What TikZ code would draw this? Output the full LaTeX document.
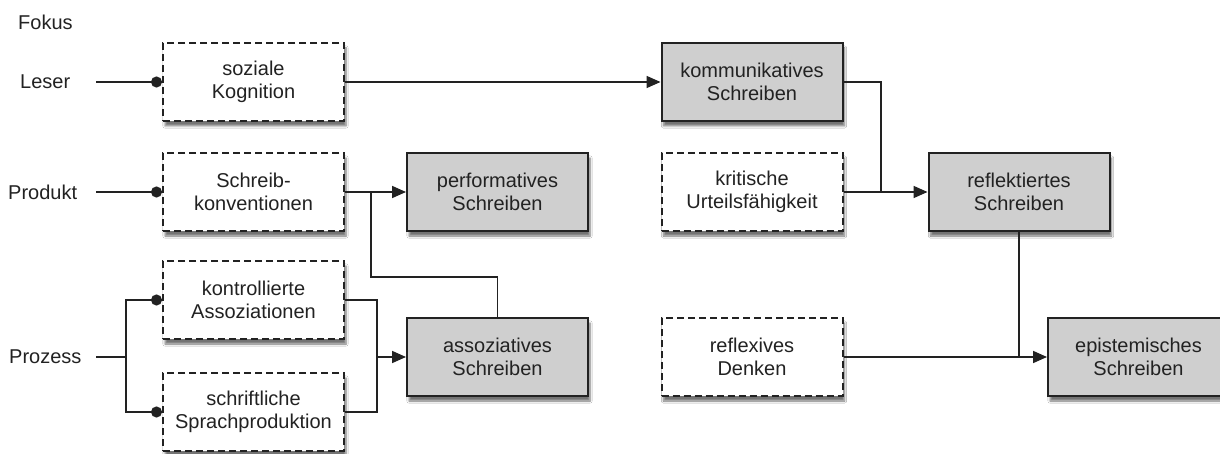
\documentclass[tikz,border=0pt]{standalone}
\usepackage{fontspec}
\setmainfont{Liberation Sans}
\usetikzlibrary{arrows.meta,shadows,shadows.blur,calc}
\definecolor{ink}{HTML}{222222}
\definecolor{boxgray}{HTML}{CFCFCF}
\tikzset{
  base/.style={minimum width=181pt, minimum height=78pt, inner sep=0pt, align=center,
    font=\fontsize{20}{23.5}\selectfont, text=ink, line width=2pt, draw=ink,
    blur shadow={shadow xshift=2pt, shadow yshift=-5pt, shadow blur steps=6, shadow opacity=55}},
  solidbox/.style={base, fill=boxgray},
  dashbox/.style={base, fill=white, dash pattern=on 7pt off 4pt},
  lab/.style={anchor=west, inner sep=0pt, font=\fontsize{20}{23.5}\selectfont, text=ink},
  conn/.style={draw=ink, line width=1.7pt},
  arr/.style={conn, -{Triangle[length=14pt,width=12pt]}},
  dotted end/.style={conn, -{Circle[length=11pt]}},
}
\begin{document}
\begin{tikzpicture}[x=1pt,y=-1pt]
\useasboundingbox (0,0) rectangle (1220,454);
\fill[white] (0,0) rectangle (1220,454);
\clip (0,0) rectangle (1220,454);
% labels
\node[lab] (fokus) at (18,22) {Fokus};
\node[lab] (leser) at (20,82) {Leser};
\node[lab] (produkt) at (8,192) {Produkt};
\node[lab] (prozess) at (9,357) {Prozess};
% boxes
\node[dashbox] (soz) at (253.5,82) {soziale\\Kognition};
\node[dashbox] (konv) at (253.5,192) {Schreib-\\konventionen};
\node[dashbox] (kontr) at (253.5,300) {kontrollierte\\Assoziationen};
\node[dashbox] (schrift) at (253.5,412) {schriftliche\\Sprachproduktion};
\node[solidbox] (perf) at (497.5,192) {performatives\\Schreiben};
\node[solidbox] (asso) at (497.5,357) {assoziatives\\Schreiben};
\node[solidbox] (komm) at (752,82) {kommunikatives\\Schreiben};
\node[dashbox] (krit) at (752,192) {kritische\\Urteilsfähigkeit};
\node[solidbox] (refl) at (1019,192) {reflektiertes\\Schreiben};
\node[dashbox] (reflex) at (752,357) {reflexives\\Denken};
\node[solidbox] (epist) at (1138.5,357) {epistemisches\\Schreiben};
% coordinates
\coordinate (lstart) at (96,82);
\coordinate (pstart) at (96,192);
\coordinate (zstart) at (96,357);
\coordinate (zfork) at (126,357);
\coordinate (kbranch) at (371,192);
\coordinate (kturn) at (371,277);
\coordinate (ajoin) at (377,357);
\coordinate (cjoin) at (881,192);
\coordinate (ejoin) at (1019,357);
% connectors
\draw[dotted end] (lstart) -- (soz.west);
\draw[dotted end] (pstart) -- (konv.west);
\draw[conn] (zstart) -- (zfork);
\draw[dotted end] (zfork) |- (kontr.west);
\draw[dotted end] (zfork) |- (schrift.west);
\draw[arr] (soz.east) -- (komm.west);
\draw[arr] (konv.east) -- (perf.west);
\draw[conn] (kbranch) -- (kturn) -| (asso.north);
\draw[conn] (kontr.east) -| (ajoin) |- (schrift.east);
\draw[arr] (ajoin) -- (asso.west);
\draw[conn] (komm.east) -| (cjoin);
\draw[arr] (krit.east) -- (refl.west);
\draw[conn] (refl.south) -- (ejoin);
\draw[arr] (reflex.east) -- (epist.west);
\end{tikzpicture}
\end{document}
